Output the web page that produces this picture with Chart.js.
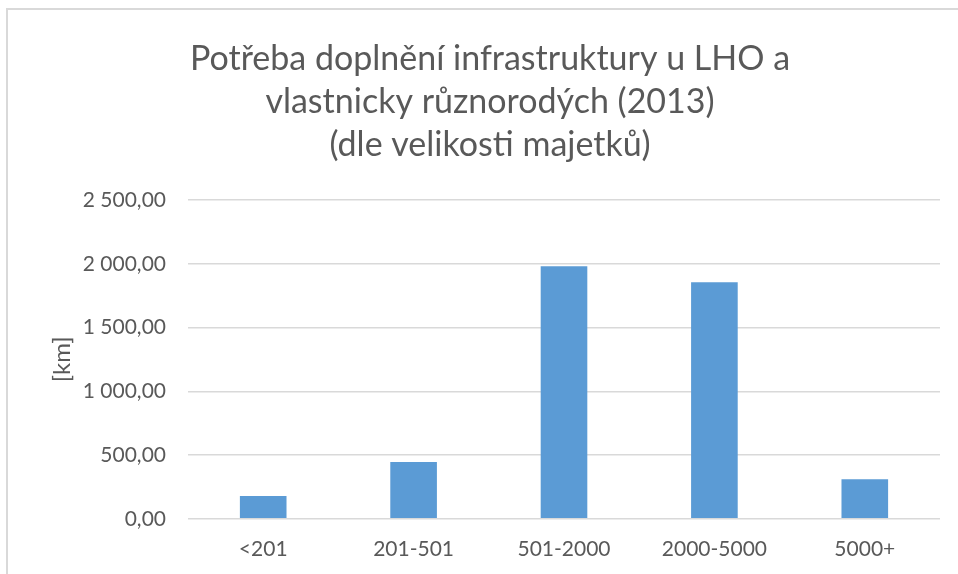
<!DOCTYPE html>
<html>
<head>
<meta charset="utf-8">
<script src="https://cdn.jsdelivr.net/npm/chart.js@4"></script>
<style>
  html, body { margin: 0; padding: 0; background: #fff; overflow: hidden; }
  .frame {
    position: absolute; left: 6px; top: 8px; width: 1000px; height: 600px;
    border: 2px solid #d9d9d9; box-sizing: border-box;
  }
  .wrap { position: absolute; left: 0; top: 0; width: 958px; height: 594px; }
</style>
</head>
<body>
<div class="frame"></div>
<div class="wrap"><canvas id="chart"></canvas></div>
<script>
const categories = ['<201', '201-501', '501-2000', '2000-5000', '5000+'];
const lengthKm = [178, 445, 1980, 1855, 310];
const yTicks = [0, 500, 1000, 1500, 2000, 2500];

const grey = '#595959';

// 2500 -> "2 500,00"
function czNumber(v) {
  const parts = v.toFixed(2).split('.');
  const int = parts[0].replace(/\B(?=(\d{3})+(?!\d))/g, ' ');
  return int + ',' + parts[1];
}

const ctx = document.getElementById('chart');

new Chart(ctx, {
  type: 'bar',
  data: {
    labels: categories,
    datasets: [{
      label: '[km]',
      data: lengthKm,
      backgroundColor: '#5b9bd5',
      categoryPercentage: 1,
      barPercentage: 0.31
    }]
  },
  options: {
    responsive: true,
    maintainAspectRatio: false,
    animation: false,
    layout: {
      padding: { left: 40, right: 18, top: 0, bottom: 14 }
    },
    plugins: {
      legend: { display: false },
      tooltip: { enabled: false },
      title: {
        display: true,
        text: ['Potřeba doplnění infrastruktury u LHO a', 'vlastnicky různorodých (2013)', '(dle velikosti majetků)'],
        color: grey,
        font: { family: 'Lato', size: 34, weight: 'normal', lineHeight: 1.265 },
        padding: { top: 38, bottom: 33 }
      }
    },
    scales: {
      x: {
        grid: { display: false, drawTicks: false },
        border: { display: false },
        ticks: {
          color: grey,
          font: { family: 'Lato', size: 21 },
          padding: 18
        }
      },
      y: {
        min: 0,
        max: 2500,
        afterFit(scale) { scale.width = 148; },
        afterBuildTicks(scale) { scale.ticks = yTicks.map(v => ({ value: v })); },
        grid: { color: '#d9d9d9', lineWidth: 1.5, drawTicks: false },
        border: { display: false },
        ticks: {
          color: grey,
          font: { family: 'Lato', size: 21 },
          padding: 22,
          callback: v => czNumber(v)
        },
        title: {
          display: true,
          text: '[km]',
          color: grey,
          font: { family: 'Lato', size: 24 },
          padding: { top: 8, bottom: 0 }
        }
      }
    }
  }
});
</script>
</body>
</html>
